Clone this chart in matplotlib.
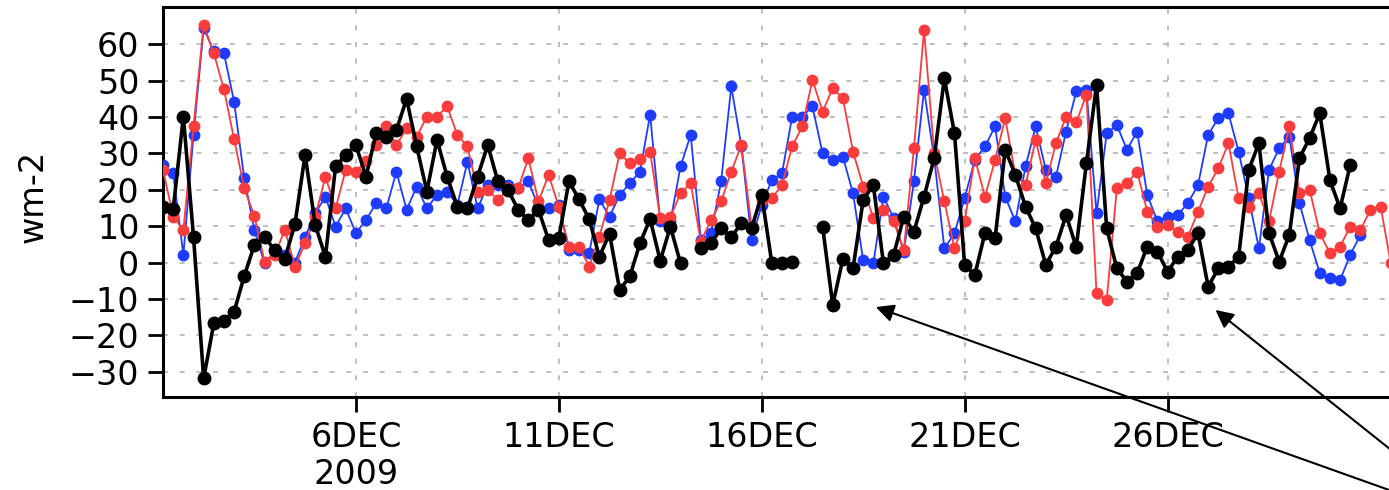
"""6-hourly flux series (wm-2), Dec 2009, three runs plus obs."""
import numpy as np
import pandas as pd
import matplotlib
matplotlib.use("Agg")
import matplotlib.pyplot as plt
import matplotlib.dates as mdates

nan = np.nan

# values, one every 6 h from 1 Dec 06Z
black_vals = [15.4, 14.7, 40.1, 7.1, -31.8, -16.7, -15.9, -13.5, -3.7, 4.9,
              7.0, 3.5, 1.1, 10.6, 29.6, 10.3, 1.6, 26.4, 29.6, 32.3,
              23.6, 35.5, 34.6, 36.4, 45.0, 31.9, 19.5, 33.7, 23.6, 15.4,
              14.9, 23.6, 32.3, 22.3, 20.0, 14.5, 11.7, 14.5, 6.2, 6.7,
              22.3, 17.4, 11.9, 1.6, 8.0, -7.5, -3.8, 5.3, 12.0, 0.5,
              9.9, -0.2, nan, 3.9, 5.3, 9.4, 7.1, 10.8, 9.4, 18.6,
              -0.2, -0.2, 0.1, nan, nan, 9.9, -11.6, 1.0, -1.6, 17.2,
              21.3, -0.2, 2.1, 12.6, 8.5, 18.1, 28.7, 50.6, 35.5, -0.6,
              -3.4, 8.1, 6.7, 31.0, 24.1, 15.4, 9.4, -0.6, 4.4, 13.1,
              4.2, 27.3, 48.8, 9.4, -1.6, -5.2, -2.9, 4.4, 3.0, -2.5,
              1.6, 3.5, 8.1, -6.6, -1.6, -1.1, 1.6, 25.5, 32.8, 8.1,
              0.3, 7.6, 28.7, 34.2, 41.0, 22.7, 14.9, 26.8]

red_vals = [25.5, 12.6, 9.0, 37.4, 65.3, 57.5, 47.6, 33.9, 20.4, 12.8,
            0.3, 2.0, 9.0, -1.1, 5.3, 12.6, 23.6, 14.9, 25.5, 25.0,
            28.0, 32.3, 37.4, 32.3, 36.9, 34.6, 40.1, 40.1, 42.9, 35.1,
            31.9, 19.5, 20.0, 17.2, 20.4, 20.4, 28.7, 16.8, 24.1, 15.4,
            4.4, 4.4, -1.1, 7.1, 17.2, 30.0, 27.3, 28.4, 30.5, 12.2,
            12.6, 19.0, 21.8, 5.8, 11.7, 16.8, 25.0, 32.3, 10.0, 17.2,
            17.7, 21.3, 31.9, 37.4, 50.2, 41.5, 47.9, 45.1, 30.5, 20.9,
            12.2, 14.5, 11.3, 3.5, 31.4, 63.9, 30.0, 16.8, 3.9, 11.3,
            28.7, 18.1, 28.2, 39.7, 24.0, 21.3, 33.7, 21.8, 32.8, 40.1,
            38.5, 46.1, -8.4, -10.3, 20.4, 21.8, 25.0, 14.0, 9.9, 10.3,
            8.5, 7.1, 14.0, 20.9, 25.9, 32.8, 17.7, 15.4, 19.0, 11.3,
            25.0, 37.4, 19.0, 20.0, 8.1, 2.6, 4.4, 9.9, 9.0, 14.5,
            15.4, -0.2]

blue_vals = [26.8, 24.5, 2.1, 35.1, 64.4, 58.0, 57.5, 44.2, 23.2, 9.0,
             -0.2, 3.0, 2.0, 0.0, 7.1, 13.6, 18.1, 9.9, 14.9, 8.1,
             11.7, 16.3, 14.9, 25.0, 14.5, 20.9, 14.9, 18.6, 19.5, 15.8,
             27.7, 14.9, 21.3, 21.3, 21.3, 20.4, 22.3, 15.4, 14.9, 15.8,
             3.5, 3.5, 2.6, 17.4, 12.6, 18.6, 21.8, 25.0, 40.6, 11.3,
             11.3, 26.4, 35.1, 6.2, 8.1, 22.3, 48.4, 31.9, 6.2, 15.8,
             22.7, 24.5, 40.1, 40.1, 42.9, 30.0, 28.2, 29.1, 19.0, 0.7,
             -0.2, 18.1, 12.2, 3.0, 22.3, 47.4, 28.7, 3.9, 8.1, 17.7,
             28.2, 31.9, 37.4, 18.1, 11.3, 26.4, 37.4, 25.5, 23.6, 36.0,
             47.0, 47.4, 13.6, 35.5, 37.8, 31.0, 36.0, 18.6, 11.3, 12.6,
             13.1, 16.3, 21.3, 35.1, 39.7, 41.0, 30.5, 17.7, 3.9, 25.5,
             31.4, 34.6, 16.3, 6.2, -2.9, -4.3, -4.8, 2.1, 7.6]

start = "2009-12-01 06:00"
tick_dates = ["2009-12-06", "2009-12-11", "2009-12-16", "2009-12-21", "2009-12-26"]
tick_labels = ["6DEC\n2009", "11DEC", "16DEC", "21DEC", "26DEC"]
yticks = [60, 50, 40, 30, 20, 10, 0, -10, -20, -30]


def times_for(vals):
    return pd.date_range(start, periods=len(vals), freq="6h")


plt.rcParams["font.family"] = ["DejaVu Sans"]

fig = plt.figure(figsize=(13.89, 4.90), dpi=100)
ax = fig.add_axes([0.1174, 0.1898, 0.8985, 0.7959])

ax.plot(times_for(blue_vals), blue_vals, color="#1e3cff", lw=1.3,
        marker="o", ms=7.5, zorder=3)
ax.plot(times_for(red_vals), red_vals, color="#fa3c3c", lw=1.3,
        marker="o", ms=7.5, zorder=4)
ax.plot(times_for(black_vals), black_vals, color="black", lw=2.6,
        marker="o", ms=9, zorder=5)

ax.set_xlim(pd.Timestamp(start), pd.Timestamp("2010-01-01"))
ax.set_ylim(-36.9, 70.2)

ax.set_xticks([mdates.date2num(pd.Timestamp(d)) for d in tick_dates])
ax.set_xticklabels(tick_labels, fontsize=24, linespacing=1.15)
ax.set_yticks(yticks)
ax.set_yticklabels([str(v).replace("-", "\u2212") for v in yticks], fontsize=24)
ax.tick_params(direction="out", length=11, width=2, pad=6)

ax.grid(True, color="#b4b4b4", lw=1.2, ls=(0, (3, 7)))
ax.set_axisbelow(True)
for sp in ax.spines.values():
    sp.set_linewidth(2.2)

fig.text(0.024, 0.60, "wm-2", rotation=90, fontsize=24,
         ha="center", va="center")

# arrows coming in from off the lower right corner
arrow = dict(arrowstyle="-|>", color="black", lw=1.5, mutation_scale=27,
             shrinkA=0, shrinkB=0)
ax.annotate("", xy=(pd.Timestamp("2009-12-18 19:30"), -12.2),
            xytext=(1.008, -0.008), textcoords="figure fraction",
            arrowprops=arrow, annotation_clip=False, zorder=10)
ax.annotate("", xy=(pd.Timestamp("2009-12-27 04:20"), -13.0),
            xytext=(1.008, 0.067), textcoords="figure fraction",
            arrowprops=arrow, annotation_clip=False, zorder=10)

fig.savefig("out.png", dpi=100)
